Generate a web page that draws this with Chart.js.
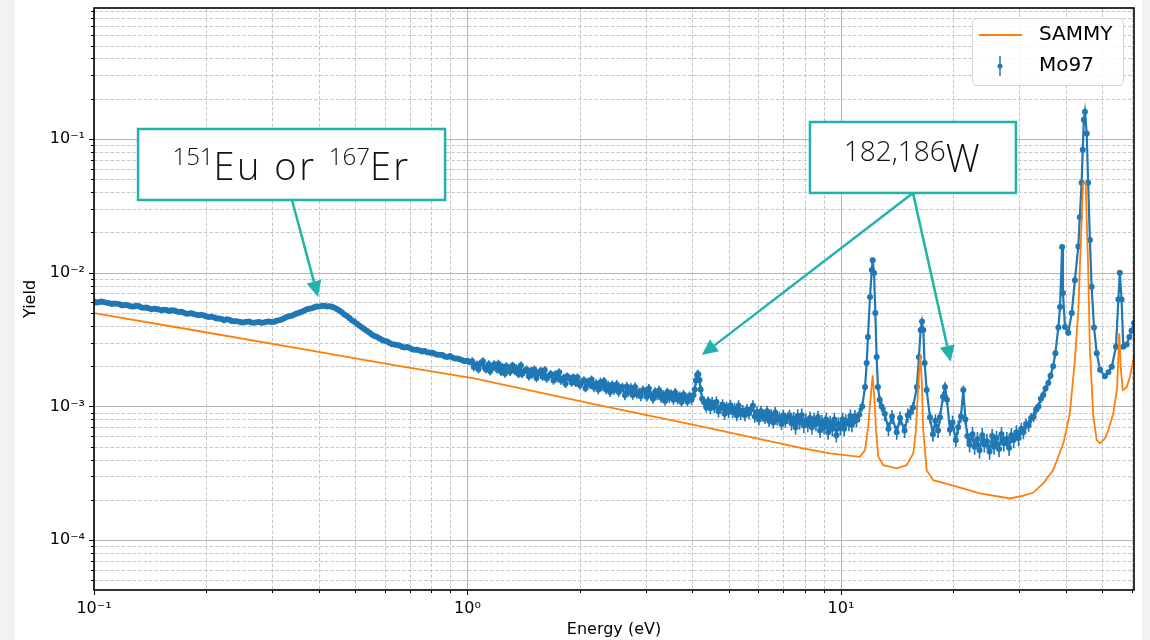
<!DOCTYPE html>
<html><head><meta charset="utf-8">
<script src="https://cdn.jsdelivr.net/npm/chart.js@4.4.1/dist/chart.umd.min.js"></script>
<style>
html,body{margin:0;padding:0;background:#f2f2f2;}
canvas{display:block;}
</style></head><body>
<canvas id="c" width="1150" height="640"></canvas>
<script>
// ---------------- data ----------------
const mo97Energy = [
0.100,0.1015,0.103,0.1045,0.106,0.108,0.110,0.1115,0.113,0.115,0.117,0.1185,0.120,0.122,0.124,0.126,0.128,0.130,0.132,0.134,
0.136,0.138,0.140,0.1425,0.145,0.147,0.149,0.1515,0.154,0.1565,0.159,0.1615,0.164,0.1665,0.169,0.1715,0.174,0.177,0.180,0.1825,
0.185,0.188,0.191,0.194,0.197,0.200,0.203,0.2065,0.210,0.213,0.216,0.2195,0.223,0.2265,0.230,0.2335,0.237,0.241,0.245,0.2485,
0.252,0.256,0.260,0.264,0.268,0.2725,0.277,0.281,0.285,0.2895,0.294,0.299,0.304,0.3085,0.313,0.318,0.323,0.328,0.333,0.3385,
0.344,0.349,0.354,0.360,0.366,0.3715,0.377,0.383,0.389,0.395,0.401,0.4075,0.414,0.4205,0.427,0.4335,0.440,0.447,0.454,0.461,
0.468,0.4755,0.483,0.4905,0.498,0.506,0.514,0.522,0.530,0.5385,0.547,0.5555,0.564,0.573,0.582,0.591,0.600,0.6095,0.619,0.6285,
0.638,0.648,0.658,0.6685,0.679,0.6895,0.700,0.711,0.722,0.7335,0.745,0.7565,0.768,0.7805,0.793,0.805,0.817,0.830,0.843,0.8565,
0.870,0.8835,0.897,0.911,0.925,0.9395,0.954,0.969,0.984,0.9995,1.015,
1.03,1.04,1.06,1.07,1.08,1.10,1.11,1.12,1.14,1.15,
1.17,1.18,1.20,1.21,1.23,1.24,1.26,1.27,1.29,1.30,
1.32,1.34,1.35,1.37,1.39,1.40,1.42,1.44,1.46,1.48,
1.49,1.51,1.53,1.55,1.57,1.59,1.61,1.63,1.65,1.67,
1.70,1.72,1.74,1.76,1.78,1.81,1.83,1.85,1.88,1.90,
1.92,1.95,1.97,2.00,2.02,2.05,2.07,2.10,2.13,2.15,
2.18,2.21,2.24,2.27,2.29,2.32,2.35,2.38,2.41,2.44,
2.47,2.51,2.54,2.57,2.60,2.64,2.67,2.70,2.74,2.77,
2.81,2.84,2.88,2.91,2.95,2.99,3.02,3.06,3.10,3.14,
3.18,3.22,3.26,3.30,3.34,3.38,3.43,3.47,3.51,3.56,
3.60,3.65,3.70,3.74,3.79,3.84,3.88,3.93,3.98,4.03,
4.06,4.09,4.12,4.15,4.18,4.21,4.25,4.30,4.36,4.41,
4.47,4.52,4.58,4.64,4.70,4.76,4.82,4.88,4.94,5.00,
5.06,5.13,5.19,5.26,5.32,5.39,5.46,5.53,5.60,5.67,
5.74,5.81,5.88,5.96,6.03,6.11,6.19,6.26,6.34,6.42,
6.50,6.59,6.67,6.75,6.84,6.93,7.01,7.10,7.19,7.28,
7.37,7.47,7.56,7.66,7.75,7.85,7.95,8.05,8.15,8.26,
8.36,8.47,8.57,8.68,8.79,8.90,9.01,9.13,9.24,9.36,
9.48,9.60,9.72,9.84,9.96,10.1,10.2,10.3,10.5,10.6,
10.7,10.9,11.0,11.2,
11.40,11.60,11.72,11.81,11.96,12.09,12.16,12.26,12.36,12.46,12.56,12.70,12.85,
13.1,13.4,13.7,14.1,14.4,14.8,15.1,15.35,
15.59,15.97,16.17,16.34,16.48,16.61,16.75,16.96,17.31,17.63,17.9,18.2,
18.41,18.76,18.99,19.22,19.58,19.9,20.3,20.6,20.96,21.26,21.54,
21.8,22.1,22.5,22.8,23.2,23.5,23.9,24.2,24.6,25.0,25.4,25.7,26.1,26.5,26.9,27.3,27.8,28.2,28.6,29.0,29.5,29.9,
30.4,30.8,31.3,31.8,32.3,32.8,33.3,33.8,34.3,34.8,35.3,35.9,36.4,37.0,37.5,
38.2,38.6,39.1,39.3,39.8,40.6,41.5,42.3,43.2,43.6,44.1,44.4,44.7,45.0,45.5,45.9,46.4,46.9,47.6,48.4,49.4,50.9,52.0,53.1,54.5,55.3,55.8,56.4,57.0,58.2,59.2,60.0,60.9
];
const mo97Yield = [
6.10e-3,5.98e-3,6.02e-3,6.10e-3,6.05e-3,5.96e-3,5.92e-3,5.84e-3,5.88e-3,5.86e-3,5.80e-3,5.70e-3,5.72e-3,5.74e-3,5.66e-3,5.60e-3,5.58e-3,5.66e-3,5.62e-3,5.50e-3,
5.48e-3,5.50e-3,5.42e-3,5.34e-3,5.38e-3,5.36e-3,5.30e-3,5.24e-3,5.28e-3,5.26e-3,5.18e-3,5.24e-3,5.22e-3,5.12e-3,5.08e-3,5.10e-3,5.02e-3,4.94e-3,4.96e-3,4.98e-3,
4.92e-3,4.84e-3,4.80e-3,4.84e-3,4.78e-3,4.70e-3,4.66e-3,4.68e-3,4.62e-3,4.54e-3,4.55e-3,4.50e-3,4.42e-3,4.48e-3,4.45e-3,4.36e-3,4.34e-3,4.34e-3,4.30e-3,4.24e-3,
4.26e-3,4.30e-3,4.32e-3,4.24e-3,4.22e-3,4.26e-3,4.28e-3,4.22e-3,4.25e-3,4.30e-3,4.32e-3,4.28e-3,4.30e-3,4.38e-3,4.42e-3,4.46e-3,4.56e-3,4.66e-3,4.72e-3,4.76e-3,
4.86e-3,4.96e-3,5.02e-3,5.10e-3,5.22e-3,5.32e-3,5.38e-3,5.42e-3,5.52e-3,5.58e-3,5.60e-3,5.64e-3,5.66e-3,5.60e-3,5.62e-3,5.56e-3,5.46e-3,5.36e-3,5.22e-3,5.06e-3,
4.88e-3,4.74e-3,4.58e-3,4.42e-3,4.30e-3,4.16e-3,4.02e-3,3.90e-3,3.78e-3,3.66e-3,3.55e-3,3.44e-3,3.36e-3,3.30e-3,3.22e-3,3.14e-3,3.10e-3,3.06e-3,2.98e-3,2.92e-3,
2.90e-3,2.88e-3,2.85e-3,2.78e-3,2.76e-3,2.78e-3,2.74e-3,2.68e-3,2.66e-3,2.66e-3,2.62e-3,2.58e-3,2.60e-3,2.54e-3,2.52e-3,2.52e-3,2.48e-3,2.44e-3,2.44e-3,2.42e-3,
2.36e-3,2.34e-3,2.38e-3,2.32e-3,2.28e-3,2.28e-3,2.25e-3,2.22e-3,2.18e-3,2.20e-3,2.14e-3,
2.18e-3,1.97e-3,2.06e-3,1.90e-3,2.09e-3,2.18e-3,1.97e-3,1.90e-3,2.07e-3,1.83e-3,
1.98e-3,2.07e-3,1.90e-3,2.09e-3,1.82e-3,1.98e-3,1.76e-3,2.00e-3,1.93e-3,1.82e-3,
2.02e-3,1.84e-3,1.93e-3,1.75e-3,2.02e-3,1.75e-3,1.83e-3,1.89e-3,1.68e-3,1.84e-3,
1.74e-3,1.89e-3,1.63e-3,1.78e-3,1.84e-3,1.67e-3,1.87e-3,1.62e-3,1.69e-3,1.75e-3,
1.56e-3,1.74e-3,1.63e-3,1.80e-3,1.56e-3,1.64e-3,1.48e-3,1.68e-3,1.61e-3,1.51e-3,
1.65e-3,1.50e-3,1.65e-3,1.44e-3,1.52e-3,1.57e-3,1.37e-3,1.53e-3,1.45e-3,1.59e-3,
1.39e-3,1.48e-3,1.34e-3,1.52e-3,1.41e-3,1.54e-3,1.34e-3,1.44e-3,1.28e-3,1.45e-3,
1.33e-3,1.46e-3,1.28e-3,1.36e-3,1.39e-3,1.21e-3,1.41e-3,1.29e-3,1.38e-3,1.22e-3,
1.40e-3,1.24e-3,1.28e-3,1.19e-3,1.33e-3,1.29e-3,1.18e-3,1.36e-3,1.21e-3,1.14e-3,
1.29e-3,1.21e-3,1.32e-3,1.16e-3,1.23e-3,1.10e-3,1.28e-3,1.16e-3,1.24e-3,1.12e-3,
1.27e-3,1.13e-3,1.20e-3,1.08e-3,1.23e-3,1.15e-3,1.09e-3,1.20e-3,1.12e-3,1.22e-3,
1.34e-3,1.56e-3,1.72e-3,1.74e-3,1.58e-3,1.34e-3,1.14e-3,1.08e-3,0.98e-3,1.10e-3,
0.97e-3,1.07e-3,0.99e-3,1.08e-3,0.92e-3,0.98e-3,1.03e-3,0.88e-3,0.99e-3,0.91e-3,
1.02e-3,0.91e-3,0.96e-3,0.86e-3,1.01e-3,0.88e-3,0.93e-3,0.86e-3,0.95e-3,0.89e-3,
0.95e-3,1.01e-3,0.84e-3,0.91e-3,0.80e-3,0.92e-3,0.85e-3,0.82e-3,0.92e-3,0.78e-3,
0.87e-3,0.76e-3,0.90e-3,0.80e-3,0.83e-3,0.74e-3,0.86e-3,0.77e-3,0.82e-3,0.86e-3,
0.75e-3,0.81e-3,0.70e-3,0.85e-3,0.76e-3,0.86e-3,0.72e-3,0.79e-3,0.73e-3,0.82e-3,
0.70e-3,0.80e-3,0.74e-3,0.83e-3,0.66e-3,0.77e-3,0.70e-3,0.80e-3,0.64e-3,0.76e-3,
0.68e-3,0.80e-3,0.61e-3,0.74e-3,0.69e-3,0.80e-3,0.68e-3,0.78e-3,0.74e-3,0.85e-3,
0.73e-3,0.84e-3,0.79e-3,0.87e-3,
1.00e-3,1.40e-3,2.11e-3,3.30e-3,6.58e-3,10.5e-3,12.4e-3,9.95e-3,4.99e-3,2.34e-3,1.40e-3,1.12e-3,1.00e-3,
0.88e-3,0.68e-3,0.84e-3,0.64e-3,0.82e-3,0.66e-3,0.86e-3,0.90e-3,
0.98e-3,1.40e-3,2.34e-3,3.73e-3,4.32e-3,3.73e-3,2.11e-3,1.33e-3,0.83e-3,0.62e-3,0.78e-3,0.66e-3,
0.83e-3,1.18e-3,1.40e-3,1.12e-3,0.67e-3,0.76e-3,0.56e-3,0.70e-3,0.84e-3,1.33e-3,0.80e-3,
0.60e-3,0.52e-3,0.62e-3,0.50e-3,0.57e-3,0.47e-3,0.61e-3,0.52e-3,0.55e-3,0.46e-3,0.60e-3,0.50e-3,0.58e-3,0.48e-3,0.62e-3,0.53e-3,0.57e-3,0.49e-3,0.61e-3,0.56e-3,0.64e-3,0.58e-3,
0.68e-3,0.64e-3,0.74e-3,0.72e-3,0.82e-3,0.84e-3,0.95e-3,1.00e-3,1.14e-3,1.22e-3,1.36e-3,1.50e-3,1.70e-3,2.00e-3,2.50e-3,
3.90e-3,5.53e-3,15.6e-3,7.05e-3,3.93e-3,3.55e-3,5.00e-3,8.80e-3,15.7e-3,26.0e-3,47.0e-3,83.0e-3,139e-3,160e-3,110e-3,47.0e-3,17.6e-3,7.87e-3,3.90e-3,2.50e-3,1.88e-3,1.68e-3,1.80e-3,1.98e-3,2.80e-3,6.30e-3,10.0e-3,6.30e-3,2.80e-3,2.90e-3,3.30e-3,3.70e-3,4.20e-3
];
// relative error bars, percent
const mo97ErrPct = [
3,3,3,3,3,3,3,3,3,3, 3,3,3,3,3,3,3,3,3,3, 3,3,3,3,3,3,3,3,3,3, 3,3,3,3,3,3,3,3,3,3,
3,3,3,3,3,3,3,3,3,3, 3,3,3,3,3,3,3,3,3,3, 3,3,3,3,3,3,3,3,3,3, 3,3,3,3,3,3,3,3,3,3,
4,4,4,4,4,4,4,4,4,4, 4,4,4,4,4,4,4,4,4,4, 4,4,4,4,4,4,4,4,4,4, 4,4,4,4,4,4,4,4,4,4,
4,4,4,4,4,4,4,4,4,4, 4,4,4,4,4,4,4,4,4,4, 4,4,4,4,4,4,4,4,4,4, 4,
7,7,7,7,7,7,7,7,7,7, 7,7,7,7,7,7,7,7,7,7, 7,7,7,7,7,7,7,7,7,7,
7,7,7,7,7,7,7,7,7,7, 7,7,7,7,7,7,7,7,7,7, 7,7,7,7,7,7,7,7,7,7,
8,8,8,8,8,8,8,8,8,8, 8,8,8,8,8,8,8,8,8,8, 8,8,8,8,8,8,8,8,8,8,
8,8,8,8,8,8,8,8,8,8, 8,8,8,8,8,8,8,8,8,8, 8,8,8,8,8,8,8,8,8,8,
10,10,10,10,10,10,10,10,10,10, 10,10,10,10,10,10,10,10,10,10,
10,10,10,10,10,10,10,10,10,10, 10,10,10,10,10,10,10,10,10,10,
12,12,12,12,12,12,12,12,12,12, 12,12,12,12,12,12,12,12,12,12,
12,12,12,12,12,12,12,12,12,12, 12,12,12,12,
8,7,6,5,4,4,4,4,5,6,7,8,9,
12,12,12,12,12,12,12,12,
10,8,6,5,5,5,6,8,10,12,12,12,
10,9,8,9,10,12,12,12,10,8,10,
13,13,13,13,13,13,13,13,13,13,13,13,13,13,13,13,13,13,13,13,13,13,
11,11,10,10,9,9,8,8,7,7,6,6,6,5,5,
4,4,4,4,4,4,4,4,4,4,4,4,4,4,4,4,4,4,4,4,4,4,4,4,4,4,4,4,4,4,4,4,4
];
const sammyEnergy = [0.100,0.192,0.356,0.659,1.041,2.26,4.19,7.91,9.34,11.24,11.60,11.83,12.01,12.16,12.28,12.41,12.59,12.98,14.10,14.99,15.62,15.88,16.05,16.21,16.31,16.45,16.61,16.96,17.66,20.41,23.56,28.35,30.77,32.67,34.8,37.0,39.4,41.0,42.3,43.2,43.9,44.5,45.2,45.9,46.4,47.4,48.4,49.4,50.9,52.0,53.6,54.9,55.6,56.1,56.8,58.2,59.4,61.2];
const sammyYield = [4.99e-3,3.65e-3,2.71e-3,2.00e-3,1.62e-3,1.02e-3,7.13e-4,4.86e-4,4.46e-4,4.20e-4,4.72e-4,7.05e-4,1.18e-3,1.71e-3,1.18e-3,6.66e-4,4.20e-4,3.64e-4,3.44e-4,3.64e-4,4.46e-4,6.66e-4,1.18e-3,1.87e-3,2.42e-3,1.58e-3,6.66e-4,3.34e-4,2.81e-4,2.51e-4,2.24e-4,2.05e-4,2.15e-4,2.26e-4,2.66e-4,3.34e-4,5.30e-4,8.88e-4,2.22e-3,5.26e-3,1.76e-2,4.67e-2,4.67e-2,1.11e-2,2.64e-3,8.40e-4,5.61e-4,5.30e-4,5.77e-4,6.66e-4,8.88e-4,1.39e-3,3.52e-3,1.98e-3,1.33e-3,1.39e-3,1.67e-3,2.49e-3];
const seriesLabels = ['SAMMY', 'Mo97'];
const xTickValues = [0.1, 1, 10];
const yTickValues = [1e-4, 1e-3, 1e-2, 1e-1];
const xAxisTitle = 'Energy (eV)';
const yAxisTitle = 'Yield';
const annotationText = [
  [['151', true], ['Eu or ', false], ['167', true], ['Er', false]],
  [['182,186', true], ['W', false]]
];

// ------------- layout / style (separate from data) -------------
const annotationLayout = [
  { box: [0.1312, 0.871, 0.1188, 0.035], baseY: 0.0494, supSize: 24, mainSize: 38, supRaise: 15,
    arrows: [[0.339, 0.035, 0.398, 0.00658]] },
  { box: [8.26, 29.4, 0.134, 0.0395], baseY: 0.0567, supSize: 28, mainSize: 38, supRaise: 11,
    arrows: [[15.59, 0.0395, 4.24, 0.00242], [15.59, 0.0395, 19.67, 0.00216]] }
];
const TEAL = '#21b2aa';
const BLUE = '#1f77b4';
const ORANGE = '#ff7f0e';

const SUP = {'-':'\u207B','0':'\u2070','1':'\u00B9','2':'\u00B2','3':'\u00B3','4':'\u2074','5':'\u2075','6':'\u2076','7':'\u2077','8':'\u2078','9':'\u2079'};
const powLabel = v => { const e = Math.round(Math.log10(v)); return '10' + String(e).split('').map(c => SUP[c]).join(''); };

function logGrid(scale) {
  const out = [];
  const lo = Math.floor(Math.log10(scale.min)), hi = Math.ceil(Math.log10(scale.max));
  for (let e = lo; e <= hi; e++) for (let k = 1; k < 10; k++) {
    const v = k * Math.pow(10, e);
    if (v >= scale.min * 0.999 && v <= scale.max * 1.001) out.push({ v, major: k === 1, p: scale.getPixelForValue(v) });
  }
  return out;
}

const bgPlugin = {
  id: 'bg',
  beforeDraw(chart) {
    const c = chart.ctx; c.save();
    c.fillStyle = '#f2f2f2'; c.fillRect(0, 0, chart.width, chart.height);
    c.fillStyle = '#ffffff'; c.fillRect(15, 0, 1127, chart.height);
    c.restore();
  }
};

const gridPlugin = {
  id: 'mplGrid',
  beforeDatasetsDraw(chart) {
    const { ctx, chartArea: a, scales: { x, y } } = chart;
    const gx = logGrid(x), gy = logGrid(y);
    ctx.save();
    ctx.lineWidth = 1;
    ctx.setLineDash([3.5, 2]);
    ctx.strokeStyle = '#c6c6c6';
    ctx.beginPath();
    gx.filter(g => !g.major).forEach(g => { const p = Math.round(g.p) + 0.5; ctx.moveTo(p, a.top); ctx.lineTo(p, a.bottom); });
    gy.filter(g => !g.major).forEach(g => { const p = Math.round(g.p) + 0.5; ctx.moveTo(a.left, p); ctx.lineTo(a.right, p); });
    ctx.stroke();
    ctx.setLineDash([]);
    ctx.strokeStyle = '#b4b4b4';
    ctx.beginPath();
    gx.filter(g => g.major).forEach(g => { const p = Math.round(g.p) + 0.5; ctx.moveTo(p, a.top); ctx.lineTo(p, a.bottom); });
    gy.filter(g => g.major).forEach(g => { const p = Math.round(g.p) + 0.5; ctx.moveTo(a.left, p); ctx.lineTo(a.right, p); });
    ctx.stroke();
    ctx.restore();
  },
  beforeDatasetDraw(chart, args) {
    if (args.index !== 1) return;
    const { ctx, chartArea: a, scales: { x, y } } = chart;
    ctx.save();
    ctx.beginPath(); ctx.rect(a.left, a.top, a.right - a.left, a.bottom - a.top); ctx.clip();
    ctx.strokeStyle = BLUE; ctx.lineWidth = 1.6;
    ctx.beginPath();
    for (let i = 0; i < mo97Energy.length; i++) {
      const e = (mo97ErrPct[i] || 0) / 100, v = mo97Yield[i];
      const px = x.getPixelForValue(mo97Energy[i]);
      ctx.moveTo(px, y.getPixelForValue(v * (1 - e)));
      ctx.lineTo(px, y.getPixelForValue(v * (1 + e)));
    }
    ctx.stroke();
    ctx.restore();
  },
  afterDatasetsDraw(chart) {
    const { ctx, chartArea: a, scales: { x, y } } = chart;
    ctx.save();
    ctx.strokeStyle = '#000'; ctx.lineWidth = 1;
    ctx.beginPath();
    logGrid(x).forEach(g => { const p = Math.round(g.p) + 0.5; ctx.moveTo(p, a.bottom); ctx.lineTo(p, a.bottom + (g.major ? 5 : 3)); });
    logGrid(y).forEach(g => { const p = Math.round(g.p) + 0.5; ctx.moveTo(a.left, p); ctx.lineTo(a.left - (g.major ? 5 : 3), p); });
    ctx.stroke();
    ctx.lineWidth = 1.6;
    ctx.strokeRect(a.left, a.top, a.right - a.left, a.bottom - a.top);
    ctx.restore();
  }
};

function drawArrow(ctx, x1, y1, x2, y2) {
  const ang = Math.atan2(y2 - y1, x2 - x1), L = 16, W = 7.5;
  const bx = x2 - L * Math.cos(ang), by = y2 - L * Math.sin(ang);
  ctx.beginPath(); ctx.moveTo(x1, y1); ctx.lineTo(bx, by); ctx.stroke();
  ctx.beginPath();
  ctx.moveTo(x2, y2);
  ctx.lineTo(bx + W * Math.sin(ang), by - W * Math.cos(ang));
  ctx.lineTo(bx - W * Math.sin(ang), by + W * Math.cos(ang));
  ctx.closePath(); ctx.fill();
}

const overlayPlugin = {
  id: 'overlay',
  afterDraw(chart) {
    const { ctx, chartArea: a, scales: { x, y } } = chart;
    ctx.save();
    // legend
    const w = 151, h = 67, lx = a.right - 11 - w, ly = a.top + 10;
    ctx.beginPath(); ctx.roundRect(lx + 0.5, ly + 0.5, w, h, 4);
    ctx.fillStyle = 'rgba(255,255,255,0.85)'; ctx.fill();
    ctx.strokeStyle = '#d4d4d4'; ctx.lineWidth = 1; ctx.stroke();
    const ds = chart.data.datasets;
    ctx.font = '20px "DejaVu Sans"'; ctx.textBaseline = 'middle'; ctx.textAlign = 'left';
    let ry = ly + 17;
    ctx.strokeStyle = ds[0].borderColor; ctx.lineWidth = 1.8;
    ctx.beginPath(); ctx.moveTo(lx + 7, ry); ctx.lineTo(lx + 50, ry); ctx.stroke();
    ctx.fillStyle = '#000'; ctx.fillText(ds[0].label, lx + 67, ry);
    ry = ly + 48;
    ctx.strokeStyle = ds[1].borderColor; ctx.lineWidth = 1.5;
    ctx.beginPath(); ctx.moveTo(lx + 28, ry - 10); ctx.lineTo(lx + 28, ry + 10); ctx.stroke();
    ctx.fillStyle = ds[1].borderColor; ctx.beginPath(); ctx.arc(lx + 28, ry, 2.5, 0, Math.PI * 2); ctx.fill();
    ctx.fillStyle = '#000'; ctx.fillText(ds[1].label, lx + 67, ry);

    // annotations
    annotationLayout.forEach((an, k) => {
      const x1 = x.getPixelForValue(an.box[0]), x2 = x.getPixelForValue(an.box[1]);
      const y1 = y.getPixelForValue(an.box[2]), y2 = y.getPixelForValue(an.box[3]);
      ctx.strokeStyle = TEAL; ctx.fillStyle = TEAL; ctx.lineWidth = 2.5;
      an.arrows.forEach(ar => drawArrow(ctx, x.getPixelForValue(ar[0]), y.getPixelForValue(ar[1]), x.getPixelForValue(ar[2]), y.getPixelForValue(ar[3])));
      ctx.fillStyle = '#ffffff'; ctx.fillRect(x1, y1, x2 - x1, y2 - y1);
      ctx.strokeRect(x1, y1, x2 - x1, y2 - y1);
      const parts = annotationText[k];
      const fontFor = s => '300 ' + (s ? an.supSize : an.mainSize) + 'px "Open Sans", Lato, sans-serif';
      const spacingFor = s => (s ? '0px' : '2.5px');
      let tw = 0;
      parts.forEach(([t, s]) => { ctx.font = fontFor(s); ctx.letterSpacing = spacingFor(s); tw += ctx.measureText(t).width; });
      let cx = (x1 + x2) / 2 - tw / 2;
      const by = y.getPixelForValue(an.baseY);
      ctx.fillStyle = '#111'; ctx.textBaseline = 'alphabetic'; ctx.textAlign = 'left';
      parts.forEach(([t, s]) => { ctx.font = fontFor(s); ctx.letterSpacing = spacingFor(s); ctx.fillText(t, cx, s ? by - an.supRaise : by); cx += ctx.measureText(t).width; });
      ctx.letterSpacing = '0px';
    });
    ctx.restore();
  }
};

new Chart(document.getElementById('c'), {
  type: 'scatter',
  data: {
    datasets: [
      { label: seriesLabels[0], data: sammyEnergy.map((e, i) => ({ x: e, y: sammyYield[i] })),
        showLine: true, borderColor: ORANGE, backgroundColor: ORANGE, borderWidth: 1.8, pointRadius: 0 },
      { label: seriesLabels[1], data: mo97Energy.map((e, i) => ({ x: e, y: mo97Yield[i] })),
        showLine: true, borderColor: BLUE, backgroundColor: BLUE, borderWidth: 2.2, pointRadius: 3, pointBorderWidth: 0 }
    ]
  },
  options: {
    responsive: false, animation: false, events: [],
    layout: { padding: { left: 0, right: 16, top: 8, bottom: 0 } },
    plugins: { legend: { display: false }, tooltip: { enabled: false } },
    scales: {
      x: {
        type: 'logarithmic', position: 'bottom', min: 0.1, max: 60.9, bounds: 'data',
        afterFit(s) { s.height = 50; s.paddingLeft = 0; s.paddingRight = 0; },
        afterBuildTicks(s) { s.ticks = xTickValues.map(v => ({ value: v, major: true })); },
        ticks: { autoSkip: false, maxRotation: 0, padding: 4, color: '#000', font: { family: 'DejaVu Sans', size: 16 }, callback: v => powLabel(v) },
        grid: { drawOnChartArea: false, drawTicks: true, tickLength: 5, color: 'rgba(0,0,0,0)' },
        border: { display: false },
        title: { display: true, text: xAxisTitle, color: '#000', font: { family: 'DejaVu Sans', size: 16 }, padding: { top: 0, bottom: 1 } }
      },
      y: {
        type: 'logarithmic', position: 'left', min: 4.24e-5, max: 0.954, bounds: 'data',
        afterFit(s) { s.width = 94; s.paddingTop = 0; s.paddingBottom = 0; },
        afterBuildTicks(s) { s.ticks = yTickValues.map(v => ({ value: v, major: true })); },
        ticks: { autoSkip: false, padding: 4, color: '#000', font: { family: 'DejaVu Sans', size: 16 }, callback: v => powLabel(v) },
        grid: { drawOnChartArea: false, drawTicks: true, tickLength: 5, color: 'rgba(0,0,0,0)' },
        border: { display: false },
        title: { display: true, text: yAxisTitle, color: '#000', font: { family: 'DejaVu Sans', size: 16 }, padding: { top: 21, bottom: 0 } }
      }
    }
  },
  plugins: [bgPlugin, gridPlugin, overlayPlugin]
});
</script>
</body></html>
